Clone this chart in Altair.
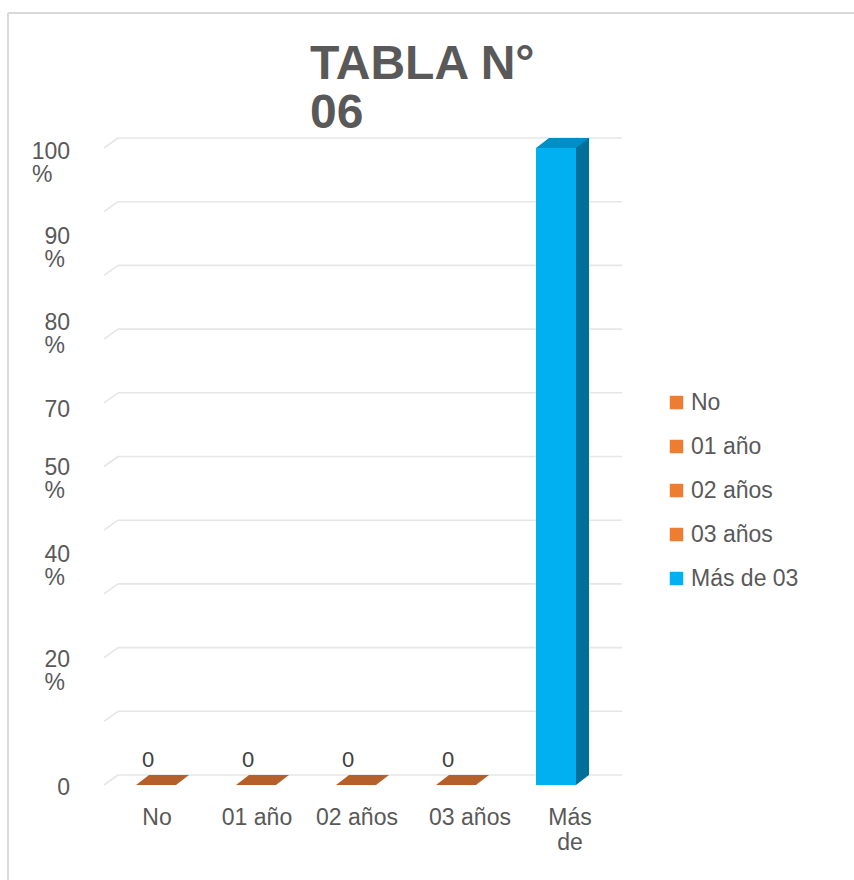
import altair as alt
import pandas as pd

# ---- data -------------------------------------------------------------
categories = ["No", "01 año", "02 años", "03 años", "Más de 03"]
values = [0, 0, 0, 0, 100]
labelled = ["No", "01 año", "02 años", "03 años"]

grid_values = [0, 10, 20, 30, 40, 50, 60, 70, 80, 90, 100]
tick_values = [100, 90, 80, 70, 50, 40, 20, 0]
tick_numbers = ["100", "90", "80", "70", "50", "40", "20", "0"]
tick_units = ["%", "%", "%", "", "%", "%", "%", ""]
title_lines = ["TABLA N°", "06"]

# ---- styling / layout --------------------------------------------------
front_colors = ["#ED7D31", "#ED7D31", "#ED7D31", "#ED7D31", "#00B0F0"]
top_colors = ["#B5602A", "#B5602A", "#B5602A", "#B5602A", "#008EC6"]
side_colors = ["#9A4F20", "#9A4F20", "#9A4F20", "#9A4F20", "#00709A"]
TEXT = "#595959"
FONT = "Liberation Sans"
GRID = "#E6E6E6"

W, H = 500, 637            # plot area (front plane)
PAD_L, PAD_T = 106, 148
DX, DY = 13, 10            # depth of the 3-D effect
BAR_W = 40
PX_PER_UNIT = H / 100
DIGIT_W = 12.7
LABEL_RIGHT = -36
label_shift_px = [4, 25, 48, 71, 1.5, 25, 2.5, 3]   # wrapped tick labels drift downwards

# unit-square paths for the custom point symbols (scaled by sqrt(size)/2 = 10 px)
CAP = "M -2.65 0.5 L 1.35 0.5 L 2.65 -0.5 L -1.35 -0.5 Z"
SIDE_FOOT = "M -0.65 -1 L -0.65 0 L 0.65 -1 Z"

bars = pd.DataFrame({"cat": categories, "val": values})
bars["zero"] = 0
grid = pd.DataFrame({"g": grid_values})
ticks = pd.DataFrame({"num": tick_numbers, "unit": tick_units, "tick": tick_values})
ticks["pos"] = [t - s / PX_PER_UNIT for t, s in zip(tick_values, label_shift_px)]
ticks["ndig"] = ticks["num"].str.len()
one = pd.DataFrame({"a": [0]})
title_df = pd.DataFrame({"t": [title_lines]})

ys = alt.Scale(domain=[0, 100], nice=False, zero=False)
xs = alt.Scale(domain=categories, paddingInner=0, paddingOuter=0)
x_axis = alt.Axis(
    domain=False, ticks=False, grid=False, labelAngle=0,
    labelFontSize=23, labelFont=FONT, labelColor=TEXT,
    labelPadding=21, labelLineHeight=25, labelBaseline="top",
    labelOffset={
        "condition": {"test": "indexof(['03 años', 'Más de 03'], datum.value) >= 0", "value": 14},
        "value": 1,
    },
    labelExpr="datum.label == 'Más de 03' ? ['Más', 'de'] : datum.label",
)


def xcat():
    return alt.X("cat:N", scale=xs, sort=categories, axis=x_axis, title=None)


# ---- outer frame ------------------------------------------------------
frame_left = alt.Chart(one).mark_rule(color="#D9D9D9", strokeWidth=2).encode(
    x=alt.value(8 - PAD_L), y=alt.value(13 - PAD_T), y2=alt.value(H + 100)
)
frame_top = alt.Chart(one).mark_rule(color="#D9D9D9", strokeWidth=2).encode(
    y=alt.value(13 - PAD_T), x=alt.value(8 - PAD_L), x2=alt.value(W + 260)
)

# ---- back-wall gridlines and their floor diagonals ---------------------
grid_back = alt.Chart(grid).mark_rule(color=GRID, strokeWidth=1.6, yOffset=-DY).encode(
    y=alt.Y("g:Q", scale=ys, axis=None),
    x=alt.value(DX - 1),
    x2=alt.value(W + DX + 3),
)
grid_diag = alt.Chart(grid).mark_rule(color=GRID, strokeWidth=1.6, y2Offset=-DY).encode(
    y=alt.Y("g:Q", scale=ys, axis=None),
    y2=alt.Y2("g:Q"),
    x=alt.value(-2),
    x2=alt.value(DX - 1),
)

# ---- y tick labels (number line + "%" line, left-aligned under it) -----
tick_layers = [
    alt.Chart(ticks).mark_text(
        align="right", baseline="middle", fontSize=23, font=FONT, color=TEXT
    ).encode(
        y=alt.Y("pos:Q", scale=ys, axis=None),
        x=alt.value(LABEL_RIGHT),
        text="num:N",
    )
]
for nd in sorted(set(ticks["ndig"])):
    tick_layers.append(
        alt.Chart(ticks)
        .transform_filter(f"datum.unit != '' && datum.ndig == {nd}")
        .mark_text(
            align="left", baseline="middle", fontSize=23, font=FONT, color=TEXT, yOffset=23
        )
        .encode(
            y=alt.Y("pos:Q", scale=ys, axis=None),
            x=alt.value(LABEL_RIGHT - DIGIT_W * nd),
            text="unit:N",
        )
    )

# ---- 3-D bars -----------------------------------------------------------
front = alt.Chart(bars).mark_bar(width=BAR_W).encode(
    x=xcat(),
    y=alt.Y("val:Q", scale=ys, axis=None),
    y2="zero:Q",
    color=alt.Color(
        "cat:N",
        sort=categories,
        scale=alt.Scale(domain=categories, range=front_colors),
        legend=alt.Legend(
            title=None, orient="none", legendX=559, legendY=243,
            symbolType="square", symbolSize=182, symbolStrokeWidth=0,
            labelFontSize=23, labelFont=FONT, labelColor=TEXT,
            labelOffset=3, rowPadding=20, padding=0,
        ),
    ),
)

side = alt.Chart(bars).transform_filter("datum.val > 0").mark_bar(
    width=DX, xOffset=BAR_W / 2 + DX / 2, yOffset=-DY, y2Offset=-DY
).encode(
    x=xcat(),
    y=alt.Y("val:Q", scale=ys, axis=None),
    y2="zero:Q",
    color=alt.Color("cat:N", scale=alt.Scale(domain=categories, range=side_colors), legend=None),
)

side_foot = alt.Chart(bars).transform_filter("datum.val > 0").mark_point(
    shape=SIDE_FOOT, filled=True, size=400, opacity=1, strokeWidth=0,
    xOffset=BAR_W / 2 + DX / 2,
).encode(
    x=xcat(),
    y=alt.Y("zero:Q", scale=ys, axis=None),
    color=alt.Color("cat:N", scale=alt.Scale(domain=categories, range=side_colors), legend=None),
)

cap = alt.Chart(bars).mark_point(
    shape=CAP, filled=True, size=400, opacity=1, strokeWidth=0,
    xOffset=DX / 2, yOffset=-DY / 2,
).encode(
    x=xcat(),
    y=alt.Y("val:Q", scale=ys, axis=None),
    color=alt.Color("cat:N", scale=alt.Scale(domain=categories, range=top_colors), legend=None),
)

value_labels = alt.Chart(bars).transform_filter(
    alt.FieldOneOfPredicate(field="cat", oneOf=labelled)
).mark_text(
    fontSize=22, font=FONT, color="#404040", baseline="middle", xOffset=-8, yOffset=-25
).encode(
    x=xcat(),
    y=alt.Y("val:Q", scale=ys, axis=None),
    text=alt.Text("val:Q", format="d"),
)

title = alt.Chart(title_df).mark_text(
    align="left", baseline="alphabetic", fontSize=48, fontWeight="bold",
    font=FONT, color=TEXT, lineHeight=49,
).encode(
    x=alt.value(310 - PAD_L),
    y=alt.value(79 - PAD_T),
    text="t",
)

chart = (
    alt.layer(
        frame_left, frame_top, grid_back, grid_diag, *tick_layers,
        front, side, side_foot, cap, value_labels, title,
    )
    .resolve_scale(color="independent")
    .properties(
        width=W, height=H,
        autosize=alt.AutoSizeParams(type="none"),
        padding={"left": PAD_L, "top": PAD_T, "right": 854 - PAD_L - W, "bottom": 880 - PAD_T - H},
        background="white",
    )
    .configure_view(stroke=None)
)

chart.save("out.html", embed_options={"renderer": "svg", "actions": False})
